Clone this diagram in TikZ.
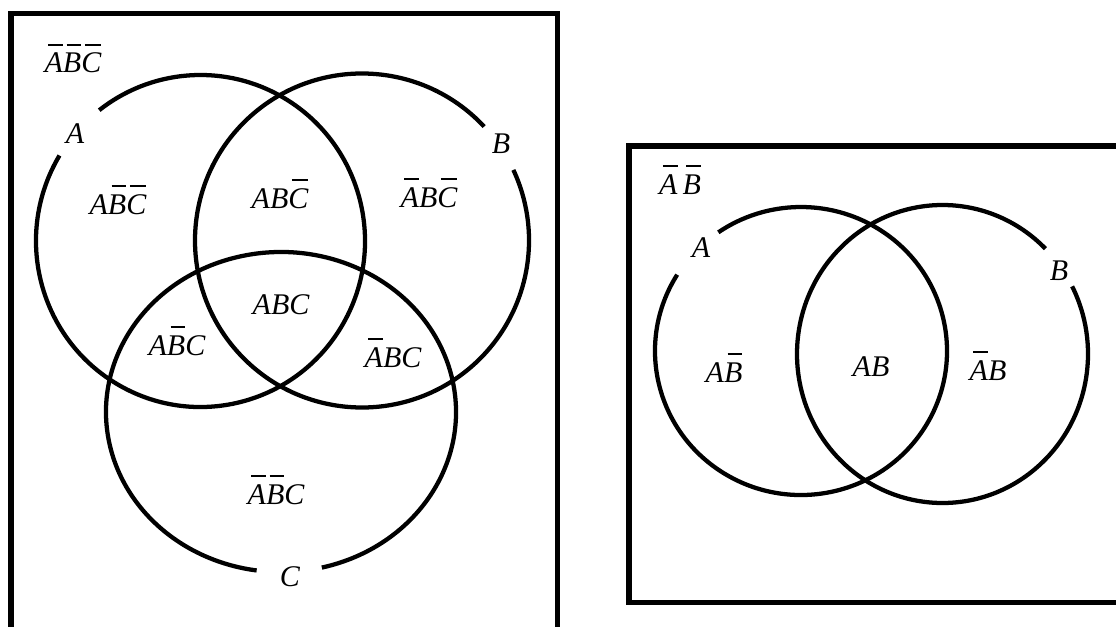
\documentclass[tikz,border=0pt]{standalone}
\usepackage{fontspec}
\setmainfont{Liberation Serif}
\newcommand{\nb}[1]{{\setbox0\hbox{#1}\rlap{\hspace{0.12em}\rule[20.6pt]{\dimexpr\wd0-0.12em\relax}{1.1pt}}\box0}}
\begin{document}
\begin{tikzpicture}[x=0.75pt,y=0.75pt,
  circ/.style={line width=3.2pt},
  frame/.style={line width=4.2pt},
  lbl/.style={font=\fontsize{22.5}{27}\selectfont\itshape, inner sep=0pt, anchor=base}]
\useasboundingbox (0,0) rectangle (1116,626);
\begin{scope}
\clip (0,0) rectangle (1116,626);
\draw[frame] (11,-10) -- (11,612.5) -- (557.5,612.5) -- (557.5,-10);
\draw[frame] (1125,480) -- (629,480) -- (629,23.5) -- (1125,23.5);
\end{scope}
% left diagram circles
\draw[circ] ([shift={(149:164.5 and 166)}]200.5,385) arc[start angle=149,end angle=488,x radius=164.5,y radius=166];
\draw[circ] ([shift={(43:167 and 167)}]362,385.5) arc[start angle=43,end angle=385,x radius=167,y radius=167];
\draw[circ] ([shift={(283.5:175 and 160)}]281,214) arc[start angle=283.5,end angle=622,x radius=175,y radius=160];
% right diagram circles
\draw[circ] ([shift={(148:146 and 144)}]801,275) arc[start angle=148,end angle=484.5,x radius=146,y radius=144];
\draw[circ] ([shift={(45:145.5 and 149)}]942.5,272) arc[start angle=45,end angle=387,x radius=145.5,y radius=149];
% left labels
\node[lbl] (nnn) at (73,553) {\nb{A}\nb{B}\nb{C}};
\node[lbl] (la) at (75,483) {A};
\node[lbl] (lb) at (501,472) {B};
\node[lbl] (lc) at (290,40) {C};
\node[lbl] (ann) at (118,412) {A\nb{B}\nb{C}};
\node[lbl] (aan) at (280,418) {AB\nb{C}};
\node[lbl] (nan) at (429,419) {\nb{A}B\nb{C}};
\node[lbl] (aaa) at (281,312) {ABC};
\node[lbl] (ana) at (177,271) {A\nb{B}C};
\node[lbl] (naa) at (393,259) {\nb{A}BC};
\node[lbl] (nna) at (276,122) {\nb{A}\nb{B}C};
% right labels
\node[lbl] (rnn) at (680,432) {\nb{A}\,\nb{B}};
\node[lbl] (ra) at (701,369) {A};
\node[lbl] (rb) at (1059,346) {B};
\node[lbl] (ran) at (724,244) {A\nb{B}};
\node[lbl] (raa) at (871,250) {AB};
\node[lbl] (rna) at (988,246) {\nb{A}B};
\end{tikzpicture}
\end{document}
